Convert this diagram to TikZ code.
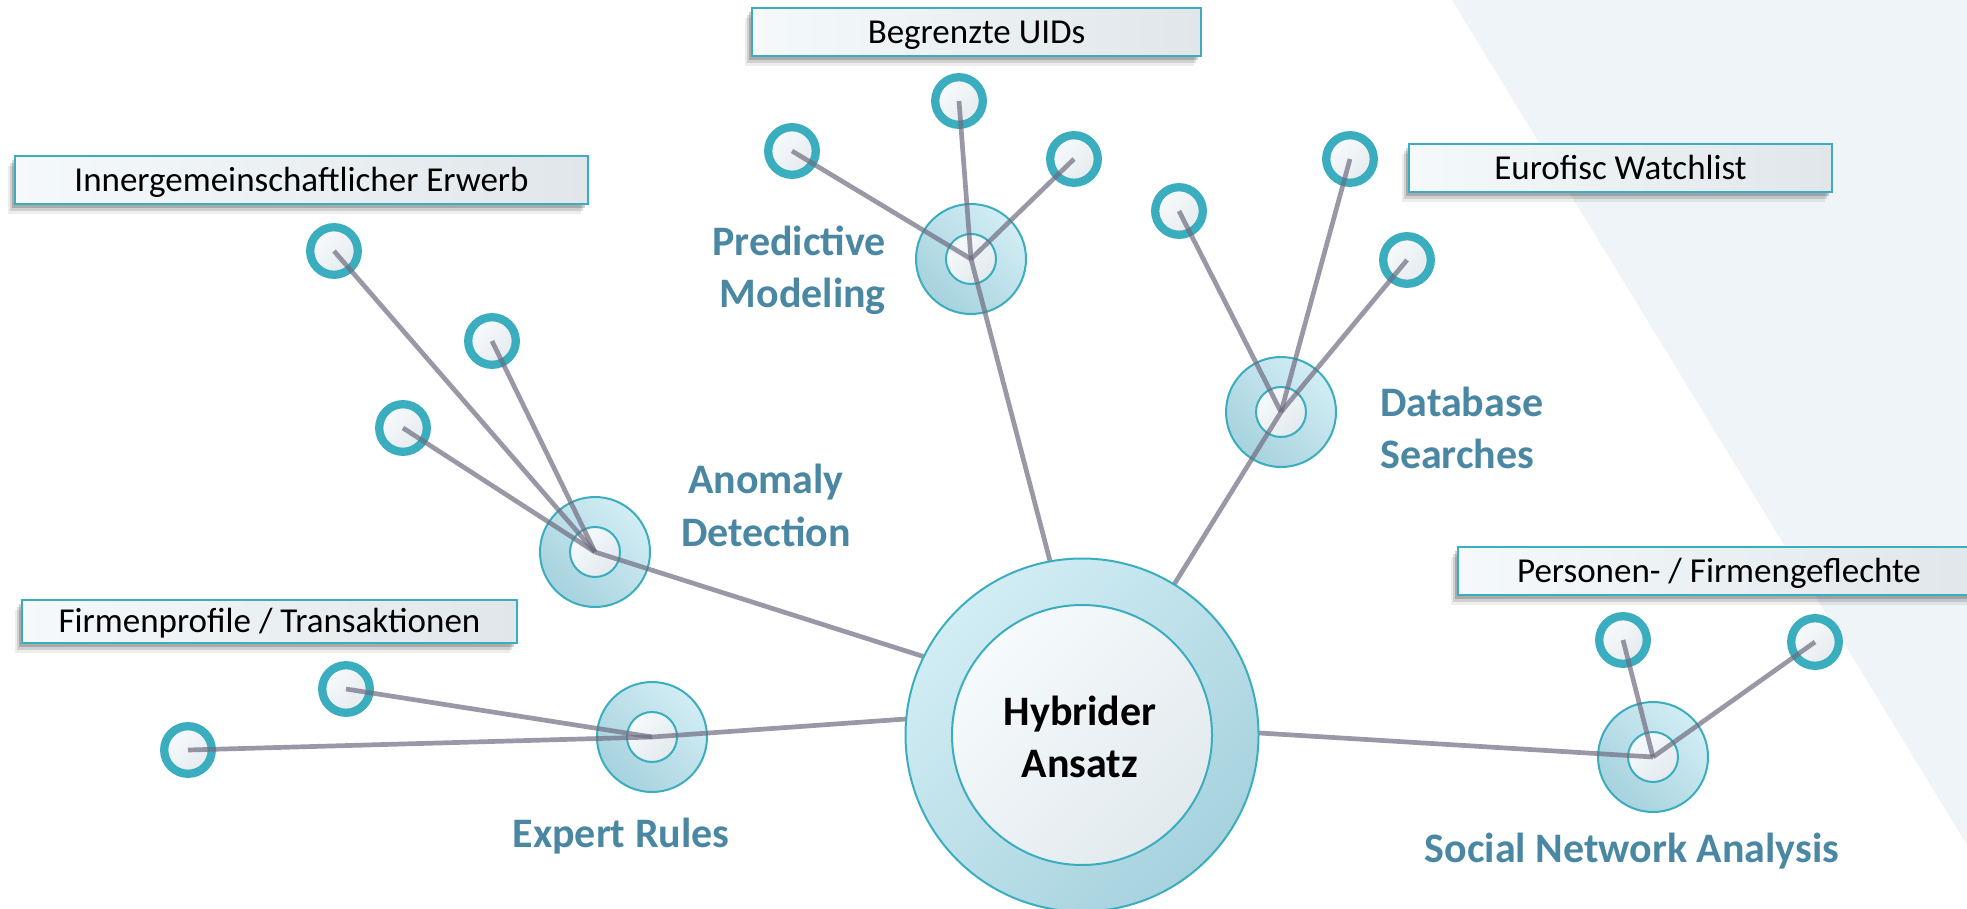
\documentclass[tikz,border=0pt]{standalone}
\usepackage{fontspec}
\setmainfont{Carlito}
\usetikzlibrary{calc,shadows}
\definecolor{ringc}{HTML}{3AADBF}
\definecolor{linec}{HTML}{6E6C80}
\definecolor{lblc}{HTML}{4A87A3}
\definecolor{bgc}{HTML}{EEF4F7}
\definecolor{hubA}{HTML}{D2EDF4}
\definecolor{hubB}{HTML}{A6D2DE}
\definecolor{inA}{HTML}{F6FAFC}
\definecolor{inB}{HTML}{E2EAED}
\definecolor{leafA}{HTML}{F8FBFD}
\definecolor{leafB}{HTML}{E4EAEE}
\definecolor{boxA}{HTML}{F5F9FC}
\definecolor{boxB}{HTML}{E0E6E9}
\begin{document}
\begin{tikzpicture}[x=1pt,y=-1pt,
  labelbox/.style={draw=ringc, line width=2.5pt, left color=boxA, right color=boxB,
    inner sep=0pt, text height=22.3pt, text depth=0pt,
    font=\fontsize{35}{42}\selectfont,
    general shadow={fill=black, opacity=0.07, shadow xshift=-7pt, shadow yshift=-10pt},
    general shadow={fill=black, opacity=0.12, shadow xshift=-5pt, shadow yshift=-7pt},
    general shadow={fill=black, opacity=0.18, shadow xshift=-3pt, shadow yshift=-4pt}},
  hubouter/.style={circle, draw=ringc, line width=2pt, minimum size=110pt, inner sep=0pt,
    top color=hubA, bottom color=hubB, shading angle=-45},
  hubinner/.style={circle, draw=ringc, line width=2pt, minimum size=50pt, inner sep=0pt,
    top color=inA, bottom color=inB, shading angle=45},
  leafnode/.style={circle, draw=ringc, line width=8.3pt, minimum size=47.6pt, inner sep=0pt,
    top color=leafA, bottom color=leafB, shading angle=45},
  mainouter/.style={circle, draw=ringc, line width=2pt, minimum size=353pt, inner sep=0pt,
    top color=hubA, bottom color=hubB, shading angle=45},
  maininner/.style={circle, draw=ringc, line width=2pt, minimum size=260pt, inner sep=0pt,
    top color=inA, bottom color=inB, shading angle=45},
  conn/.style={draw=linec, draw opacity=0.7, line width=4.7pt},
  biglabel/.style={font=\bfseries\fontsize{42}{50}\selectfont, text=lblc, inner sep=0pt},
  centertext/.style={font=\bfseries\fontsize{42}{50}\selectfont, text=black, inner sep=0pt}
]
\useasboundingbox (0,0) rectangle (1967,909);
% background triangle
\fill[bgc] (1452,0) -- (1967,0) -- (1967,845) -- cycle;

% label boxes
\node[labelbox, minimum width=449pt, minimum height=48pt] (bUID) at (976.5,32) {Begrenzte UIDs};
\node[labelbox, minimum width=573pt, minimum height=48pt] (bIE) at (301.5,180) {Innergemeinschaftlicher Erwerb};
\node[labelbox, minimum width=423pt, minimum height=48pt] (bEW) at (1620.5,168) {Eurofisc Watchlist};
\node[labelbox, minimum width=495pt, minimum height=43pt] (bFT) at (269.5,621.5) {Firmenprofile / Transaktionen};
\node[labelbox, minimum width=522pt, minimum height=48pt] (bPF) at (1719,571) {Personen- / Firmengeflechte};

% hubs
\node[hubouter] (PM) at (971,259) {};
\node[hubinner] (PMi) at (971,259) {};
\node[hubouter] (DB) at (1281,412) {};
\node[hubinner] (DBi) at (1281,412) {};
\node[hubouter] (AD) at (595,552) {};
\node[hubinner] (ADi) at (595,552) {};
\node[hubouter] (ER) at (652,737) {};
\node[hubinner] (ERi) at (652,737) {};
\node[hubouter] (SN) at (1653,757) {};
\node[hubinner] (SNi) at (1653,757) {};

% leaves
\node[leafnode] (pm1) at (792,151) {};
\node[leafnode] (pm2) at (959,101) {};
\node[leafnode] (pm3) at (1074,159) {};
\node[leafnode] (db1) at (1179,211) {};
\node[leafnode] (db2) at (1350,159) {};
\node[leafnode] (db3) at (1407,260) {};
\node[leafnode] (ad1) at (334,251) {};
\node[leafnode] (ad2) at (492,341) {};
\node[leafnode] (ad3) at (403,428) {};
\node[leafnode] (er1) at (346,689) {};
\node[leafnode] (er2) at (188,750) {};
\node[leafnode] (sn1) at (1623,640) {};
\node[leafnode] (sn2) at (1815,642) {};

% attach points on the main circle
\coordinate (pmA) at (1050,561);
\coordinate (dbA) at (1175,583);
\coordinate (adA) at (925,657);
\coordinate (erA) at (906,719);
\coordinate (snA) at (1259.5,733);

% connectors leaf -> hub
\foreach \l/\h in {pm1/PM,pm2/PM,pm3/PM,db1/DB,db2/DB,db3/DB,ad1/AD,ad2/AD,ad3/AD,er1/ER,er2/ER,sn1/SN,sn2/SN}
  \draw[conn] (\l.center) -- (\h.center);
% connectors hub -> main
\draw[conn] (PM.center) -- ($(PM.center)!1.06!(pmA)$);
\draw[conn] (DB.center) -- ($(DB.center)!1.06!(dbA)$);
\draw[conn] (AD.center) -- ($(AD.center)!1.04!(adA)$);
\draw[conn] (ER.center) -- ($(ER.center)!1.04!(erA)$);
\draw[conn] (SN.center) -- ($(SN.center)!1.04!(snA)$);

% main circle
\node[mainouter] (main) at (1082,735) {};
\node[maininner] (maini) at (1082,735) {};
\node[centertext, anchor=base] (tH1) at (1080,725) {Hybrider};
\node[centertext, anchor=base] (tH2) at (1080,777) {Ansatz};

% category labels
\node[biglabel, anchor=base east] (tPM1) at (886,256) {Predictive};
\node[biglabel, anchor=base east] (tPM2) at (886,308) {Modeling};
\node[biglabel, anchor=base] (tAD1) at (766,493) {Anomaly};
\node[biglabel, anchor=base] (tAD2) at (766,546) {Detection};
\node[biglabel, anchor=base west] (tDB1) at (1380,416) {Database};
\node[biglabel, anchor=base west] (tDB2) at (1380,468) {Searches};
\node[biglabel, anchor=base] (tER) at (621,847) {Expert Rules};
\node[biglabel, anchor=base] (tSN) at (1632,862) {Social Network Analysis};
\end{tikzpicture}
\end{document}
